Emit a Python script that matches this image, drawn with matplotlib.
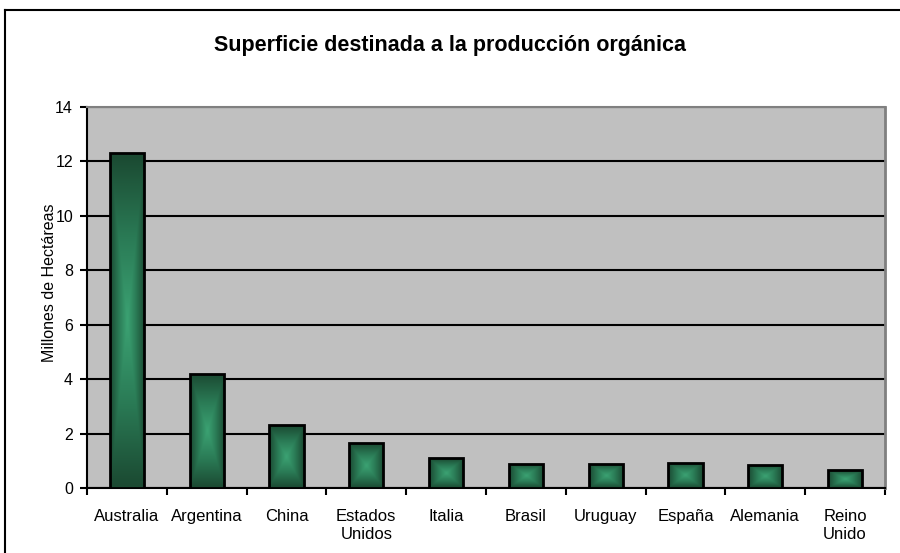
import numpy as np
import matplotlib.pyplot as plt
from matplotlib.colors import LinearSegmentedColormap
from matplotlib.lines import Line2D

paises = ['Australia', 'Argentina', 'China', 'Estados\nUnidos', 'Italia',
          'Brasil', 'Uruguay', 'España', 'Alemania', 'Reino\nUnido']
hectareas = [12.3, 4.2, 2.3, 1.65, 1.1, 0.9, 0.9, 0.93, 0.85, 0.65]
yticks = [0, 2, 4, 6, 8, 10, 12, 14]

plt.rcParams['font.family'] = ['Liberation Sans', 'DejaVu Sans']

fig = plt.figure(figsize=(9, 5.53), dpi=100)
ax = fig.add_axes([87/900, 65/553, 798/900, 381/553])
ax.set_facecolor('#c0c0c0')

x = np.arange(len(paises))
bars = ax.bar(x, hectareas, width=0.43, facecolor='none', edgecolor='black',
              linewidth=2, zorder=4)

# degradado tipo "rectangular" (claro al centro, oscuro en bordes)
cmap = LinearSegmentedColormap.from_list('verde', ['#3ba172', '#2a7a55', '#1b4a32'])
u = np.linspace(-1, 1, 60)
U, V = np.meshgrid(u, u)
grad = np.maximum(np.abs(U), np.abs(V))
for b in bars:
    x0, y0 = b.get_x(), b.get_y()
    w, h = b.get_width(), b.get_height()
    im = ax.imshow(grad, cmap=cmap, extent=[x0, x0 + w, y0, y0 + h],
                   aspect='auto', zorder=3, interpolation='bilinear')
    im.set_clip_path(b)

ax.set_xlim(-0.5, len(paises) - 0.5)
ax.set_ylim(0, 14)
ax.set_yticks(yticks)
ax.set_yticklabels([str(t) for t in yticks], fontsize=11.5)
ax.yaxis.grid(True, color='black', linewidth=1.5)
ax.set_axisbelow(True)

ax.set_xticks(x)
ax.set_xticklabels(paises, fontsize=12, linespacing=1.3)
ax.tick_params(axis='x', which='major', length=0, pad=15)
ax.set_xticks(np.arange(-0.5, len(paises)), minor=True)
ax.tick_params(axis='x', which='minor', length=5, width=1.5, direction='out')
ax.tick_params(axis='y', length=5, width=1.5, direction='out', pad=5)

ax.spines['left'].set_linewidth(1.5)
ax.spines['bottom'].set_linewidth(1.5)
ax.spines['top'].set_color('#808080')
ax.spines['right'].set_color('#808080')
ax.spines['top'].set_linewidth(1.5)
ax.spines['right'].set_linewidth(2)

ax.set_ylabel('Millones de Hectáreas', fontsize=11.5)
ax.yaxis.set_label_coords(-0.037, 0.54)

fig.text(0.5, 1 - 46/553, 'Superficie destinada a la producción orgánica',
         ha='center', va='center', fontsize=15.5, fontweight='bold')

# borde del área del gráfico
fig.add_artist(Line2D([5/900, 5/900], [0, 1 - 10/553], color='black', linewidth=1.5))
fig.add_artist(Line2D([5/900, 1], [1 - 10/553, 1 - 10/553], color='black', linewidth=1.5))

fig.savefig('out.png', dpi=100, facecolor='white')
